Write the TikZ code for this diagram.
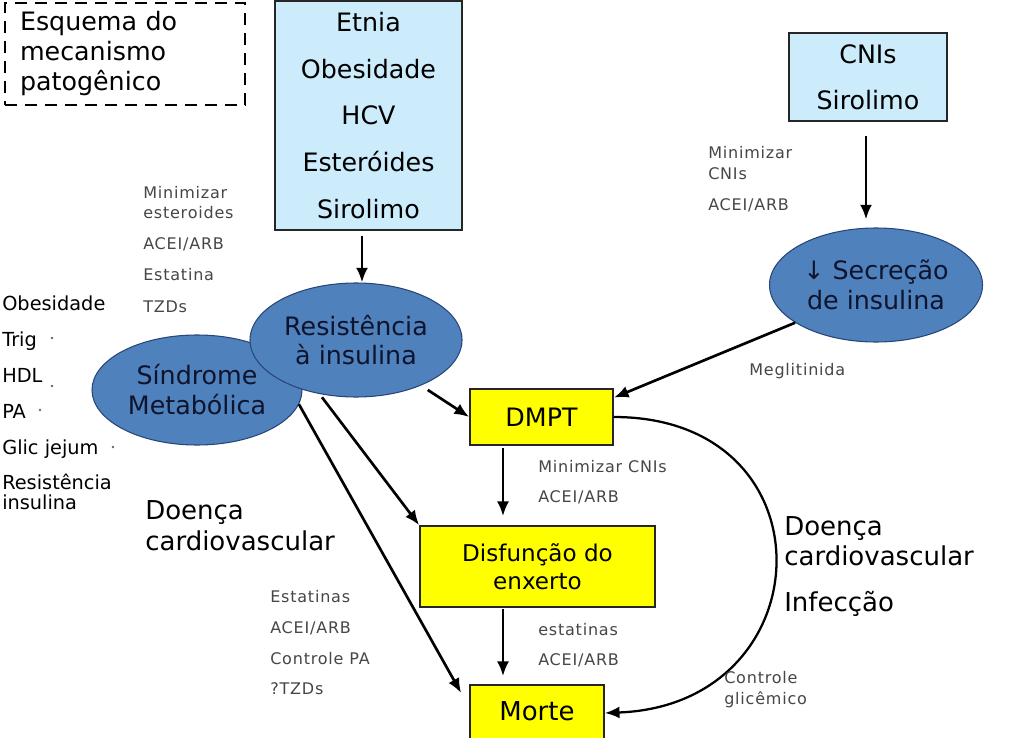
\documentclass[tikz,border=0pt]{standalone}
\usepackage{fontspec}
\setmainfont{DejaVu Sans}
\newfontfamily\lblfont{DejaVu Sans}[LetterSpace=5]
\usetikzlibrary{shapes.geometric,arrows.meta,calc}
\definecolor{ellblue}{RGB}{79,129,189}
\definecolor{ellline}{RGB}{40,70,120}
\definecolor{elltext}{RGB}{15,20,45}
\definecolor{boxblue}{RGB}{204,236,252}
\definecolor{ylw}{RGB}{255,255,0}
\definecolor{lblgray}{RGB}{70,70,70}
\begin{document}
\begin{tikzpicture}[x=0.75pt,y=-0.75pt,
  box/.style={draw=black!85, line width=1.3pt, inner sep=0pt, align=center},
  ell/.style={ellipse, fill=ellblue, draw=ellline, line width=0.8pt, inner sep=0pt, align=center, text=elltext},
  arr/.style={draw, line width=2pt, -{Latex[length=11pt,width=9pt]}},
  lbl/.style={font=\lblfont\fontsize{12}{14}\selectfont, text=lblgray, anchor=mid west, inner sep=0pt},
  lst/.style={font=\fontsize{14.5}{17}\selectfont, anchor=mid west, inner sep=0pt},
  big/.style={font=\fontsize{19.5}{23}\selectfont, anchor=mid west, inner sep=0pt},
  dotmark/.style={fill=black!60, draw=none}
]
\fill[white] (0,0) rectangle (1024,738);
\useasboundingbox (0,0) rectangle (1024,738);

% title box
\node[draw, dashed, dash pattern=on 9pt off 6pt, line width=1.3pt, text width=157.5pt, align=left,
      minimum height=76.5pt, inner xsep=11.25pt, inner ysep=0pt, font=\fontsize{19}{22.5}\selectfont]
      (title) at (125,54) {Esquema do\\mecanismo\\patogênico};

% boxes
\node[box, fill=boxblue, minimum width=140.25pt, minimum height=171.75pt, font=\fontsize{19}{35}\selectfont]
  (risk) at (368.5,115.5) {Etnia\\Obesidade\\HCV\\Esteróides\\Sirolimo};
\node[box, fill=boxblue, minimum width=118.5pt, minimum height=66pt, font=\fontsize{19}{34.5}\selectfont]
  (cni) at (868,77) {CNIs\\Sirolimo};

% ellipses
\node[ell, minimum width=157.5pt, minimum height=82.5pt, font=\fontsize{19}{22.5}\selectfont]
  (sind) at (197,390) {Síndrome\\Metabólica};
\node[ell, minimum width=159pt, minimum height=85.5pt, font=\fontsize{19}{22}\selectfont]
  (res) at (356,340) {Resistência\\à insulina};
\node[ell, minimum width=159.75pt, minimum height=85.5pt, font=\fontsize{19}{23}\selectfont]
  (sec) at (876,285) {↓ Secreção\\de insulina};

% yellow boxes
\node[box, fill=ylw, minimum width=107.25pt, minimum height=42pt, font=\fontsize{19}{23}\selectfont]
  (dmpt) at (541.5,417) {DMPT};
\node[box, fill=ylw, minimum width=176.25pt, minimum height=60.75pt, font=\fontsize{17.3}{21}\selectfont]
  (disf) at (537.5,566.5) {Disfunção do\\enxerto};
\node[box, fill=ylw, minimum width=100.5pt, minimum height=42pt, font=\fontsize{19.5}{23}\selectfont]
  (morte) at (537,713) {\raisebox{3pt}{Morte}};

% arrows
\draw[arr] ($(risk.south)+(-6.5,5)$) -- ($(res.north)+(6,0)$);
\draw[arr] ($(cni.south)+(-2,14)$) -- ($(sec.north)+(-10,-8)$);
\draw[arr, shorten <=6pt] (res.-35) -- (dmpt.west);
\draw[arr] (sec.205) -- (dmpt.15);
\draw[arr] ($(dmpt.south)+(-38.5,2)$) -- ($(disf.north)+(-34.5,-9)$);
\draw[arr] ($(disf.south)+(-34.5,1)$) -- ($(morte.north)+(-34,-8)$);
\draw[arr, shorten <=3pt] (res.-124) -- (disf.north west);
\draw[arr] (sind.-8) -- ($(morte.west)+(-8,-20)$);
\draw[arr, line width=1.7pt] (dmpt.east) .. controls (835,417) and (825,705) .. (morte.east);

% left list
\node[lst] (l1) at (2,307) {Obesidade};
\node[lst] (l2) at (2,343) {Trig};
\node[lst] (l3) at (2,379) {HDL};
\node[lst] (l4) at (2,415) {PA};
\node[lst] (l5) at (2,451) {Glic jejum};
\node[lst] (l6) at (2,486) {Resistência};
\node[lst] (l7) at (2,506) {insulina};
\fill[dotmark] (52,338) circle (1.3);
\fill[dotmark] (52,386) circle (1.3);
\fill[dotmark] (40,410) circle (1.3);
\fill[dotmark] (113,447) circle (1.3);

% small labels
\node[lbl] (a1) at (143,195) {Minimizar};
\node[lbl] (a2) at (143,215) {esteroides};
\node[lbl] (a3) at (143,246) {ACEI/ARB};
\node[lbl] (a4) at (143,277) {Estatina};
\node[lbl] (a5) at (143,309) {TZDs};

\node[lbl] (b1) at (708,155) {Minimizar};
\node[lbl] (b2) at (708,176) {CNIs};
\node[lbl] (b3) at (708,207) {ACEI/ARB};

\node[lbl] (m1) at (749,372) {Meglitinida};

\node[lbl] (c1) at (538,469) {Minimizar CNIs};
\node[lbl] (c2) at (538,499) {ACEI/ARB};

\node[lbl] (d1) at (538,632) {estatinas};
\node[lbl] (d2) at (538,662) {ACEI/ARB};

\node[lbl] (e1) at (270,599) {Estatinas};
\node[lbl] (e2) at (270,630) {ACEI/ARB};
\node[lbl] (e3) at (270,661) {Controle PA};
\node[lbl] (e4) at (270,691) {?TZDs};

\node[lbl] (g1) at (724,680) {Controle};
\node[lbl] (g2) at (724,701) {glicêmico};

% big labels
\node[big] (dl1) at (145,516) {Doença};
\node[big] (dl2) at (145,547) {cardiovascular};
\node[big] (dr1) at (784,532) {Doença};
\node[big] (dr2) at (784,562) {cardiovascular};
\node[big] (dr3) at (784,608) {Infecção};
\end{tikzpicture}
\end{document}
